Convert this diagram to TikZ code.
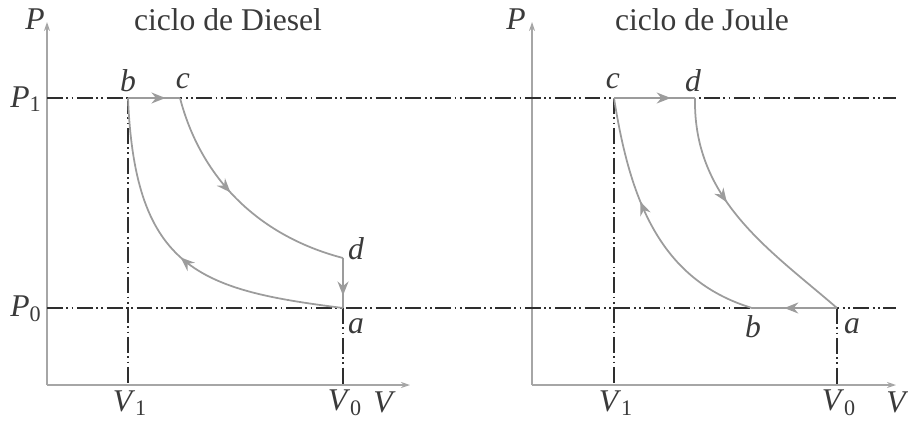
\documentclass[tikz,border=0pt]{standalone}
\usepackage{fontspec}
\setmainfont{Liberation Serif}
\usepackage{tikz}
\usepackage{xcolor}
\usetikzlibrary{arrows.meta, decorations.markings}
\definecolor{curvegray}{HTML}{9C9C9C}
\definecolor{axisgray}{HTML}{A6A6A6}
\definecolor{levelgray}{HTML}{2E2E2E}
\definecolor{textgray}{HTML}{3A3A3A}
\tikzstyle{axis} = [-{Stealth[length=1.8mm, width=1.2mm]}, axisgray, line width=0.8pt]
\tikzstyle{level} = [levelgray, line width=1.4pt,
                     dash pattern=on 9pt off 2pt on 1pt off 2pt on 1pt off 2pt]
\tikzstyle{proc} = [curvegray, line width=1pt]
\tikzstyle{ptlabel} = [textgray, font=\fontsize{18}{20}\selectfont\itshape, inner sep=0pt]
\tikzstyle{axlabel} = [textgray, font=\fontsize{18}{20}\selectfont, inner sep=0pt]
\tikzset{flow/.style={postaction={decorate}, decoration={markings,
    mark=at position #1 with {\arrow{Stealth[length=2.8mm, width=2.2mm]}}}}}

\begin{document}
\begin{tikzpicture}[x=0.02cm, y=-0.02cm]
    \useasboundingbox (0,0) rectangle (908,420);

    % axes
    \coordinate (O1) at (47,385);
    \coordinate (P1top) at (47,22);
    \coordinate (V1end) at (410,385);
    \coordinate (O2) at (532,385);
    \coordinate (P2top) at (532,22);
    \coordinate (V2end) at (896,385);
    \draw[axis] (O1) -- (P1top);
    \draw[axis] (O1) -- (V1end);
    \draw[axis] (O2) -- (P2top);
    \draw[axis] (O2) -- (V2end);

    % pressure levels
    \coordinate (hiL) at (47,98);
    \coordinate (hiR) at (896,98);
    \coordinate (loL) at (47,308);
    \coordinate (loR) at (896,308);
    \draw[level] (hiL) -- (hiR);
    \draw[level] (loL) -- (loR);

    % cycle points
    \coordinate (Da) at (343,308);
    \coordinate (Db) at (128,98);
    \coordinate (Dc) at (180,98);
    \coordinate (Dd) at (343,258);
    \coordinate (Ja) at (837,308);
    \coordinate (Jb) at (752,308);
    \coordinate (Jc) at (614,98);
    \coordinate (Jd) at (695,98);
    \coordinate (DV1) at (128,385);
    \coordinate (DV0) at (343,385);
    \coordinate (JV1) at (614,385);
    \coordinate (JV0) at (837,385);

    % volume levels
    \draw[level] (Db) -- (DV1);
    \draw[level] (Da) -- (DV0);
    \draw[level] (Jc) -- (JV1);
    \draw[level] (Ja) -- (JV0);

    % Diesel
    \draw[proc, flow=0.72] (Db) -- (Dc);
    \draw[proc, flow=0.45] (Dc) .. controls (200,175) and (255,235) .. (Dd);
    \draw[proc, flow=0.75] (Dd) -- (Da);
    \draw[proc, flow=0.5] (Da) .. controls (200,290) and (135,270) .. (Db);

    % Joule
    \draw[proc, flow=0.7] (Jc) -- (Jd);
    \draw[proc, flow=0.42] (Jd) .. controls (693,200) and (770,250) .. (Ja);
    \draw[proc, flow=0.62] (Ja) -- (Jb);
    \draw[proc, flow=0.6] (Jb) .. controls (660,280) and (630,200) .. (Jc);

    % labels
    \node[axlabel] (titleD) at (228,20) {ciclo de Diesel};
    \node[axlabel] (titleJ) at (702,20) {ciclo de Joule};
    \node[ptlabel] (PD) at (35,19) {P};
    \node[ptlabel] (PJ) at (516,19) {P};
    \node[axlabel] (P1lab) at (26,99) {\textit{P}\textsubscript{1}};
    \node[axlabel] (P0lab) at (26,309) {\textit{P}\textsubscript{0}};
    \node[axlabel] (DV1lab) at (130,403) {\textit{V}\textsubscript{1}};
    \node[axlabel] (DV0lab) at (345,403) {\textit{V}\textsubscript{0}};
    \node[ptlabel] (DVlab) at (383,402) {V};
    \node[axlabel] (JV1lab) at (616,403) {\textit{V}\textsubscript{1}};
    \node[axlabel] (JV0lab) at (839,403) {\textit{V}\textsubscript{0}};
    \node[ptlabel] (JVlab) at (896,402) {V};
    \node[ptlabel] (Dblab) at (128,81) {b};
    \node[ptlabel] (Dclab) at (183,81) {c};
    \node[ptlabel] (Ddlab) at (356,249) {d};
    \node[ptlabel] (Dalab) at (356,326) {a};
    \node[ptlabel] (Jclab) at (613,81) {c};
    \node[ptlabel] (Jdlab) at (693,81) {d};
    \node[ptlabel] (Jblab) at (753,327) {b};
    \node[ptlabel] (Jalab) at (852,326) {a};
\end{tikzpicture}
\end{document}
